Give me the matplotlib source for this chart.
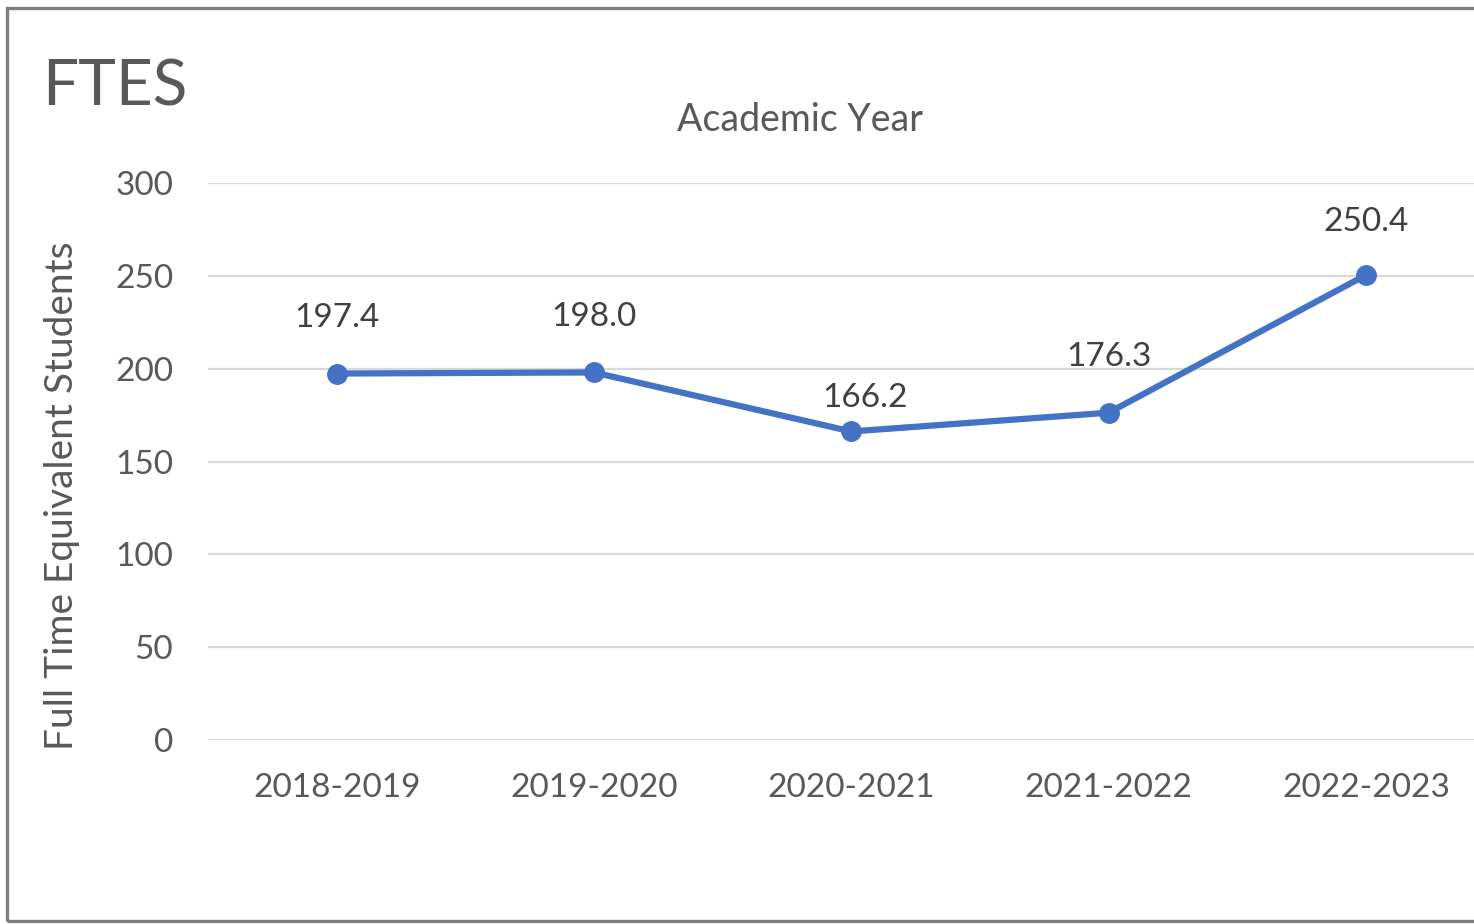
import matplotlib.pyplot as plt
from matplotlib.patches import Rectangle

plt.rcParams['font.family'] = ['Lato', 'DejaVu Sans']

years = ['2018-2019', '2019-2020', '2020-2021', '2021-2022', '2022-2023']
ftes = [197.4, 198.0, 166.2, 176.3, 250.4]
y_ticks = [0, 50, 100, 150, 200, 250, 300]
# label nudges in points (dx, dy); the dip gets pushed a bit right
label_offsets = [(0, 40), (0, 40), (10, 24), (0, 40), (0, 38)]

fig = plt.figure(figsize=(14.74, 9.24), dpi=100)
ax = fig.add_axes([0.1411, 0.1991, 0.8728, 0.6028])

x = list(range(len(years)))
ax.plot(x, ftes, color='#4472C4', linewidth=4.5, marker='o', markersize=14,
        solid_capstyle='round', zorder=3)

for xi, v, (dx, dy) in zip(x, ftes, label_offsets):
    ax.annotate(f'{v:.1f}', (xi, v), xytext=(dx, dy), textcoords='offset points',
                ha='center', va='center', fontsize=24, color='#404040')

ax.set_xlim(-0.5, len(years) - 0.5)
ax.set_ylim(0, 300)
ax.set_yticks(y_ticks)
ax.set_xticks(x)
ax.set_xticklabels(years)
ax.tick_params(axis='both', length=0, labelsize=24, labelcolor='#595959')
ax.tick_params(axis='y', pad=25)
ax.tick_params(axis='x', pad=24)
ax.grid(axis='y', color='#d9d9d9', linewidth=1.6)
ax.set_axisbelow(True)
for s in ax.spines.values():
    s.set_visible(False)

fig.text(0.042, 0.464, 'Full Time Equivalent Students', fontsize=28, color='#595959',
         rotation=90, ha='center', va='center')
fig.text(0.0285, 0.905, 'FTES', fontsize=46, color='#595959', ha='left', va='center')
fig.text(0.543, 0.870, 'Academic Year', fontsize=27, color='#595959', ha='center', va='center')

# grey frame, open on the right side
fig.patches.append(Rectangle((0.0045, 0.0032), 1.1, 0.9879, transform=fig.transFigure,
                             fill=False, edgecolor='#7f7f7f', linewidth=2.4))

fig.savefig('out.png', dpi=100)
